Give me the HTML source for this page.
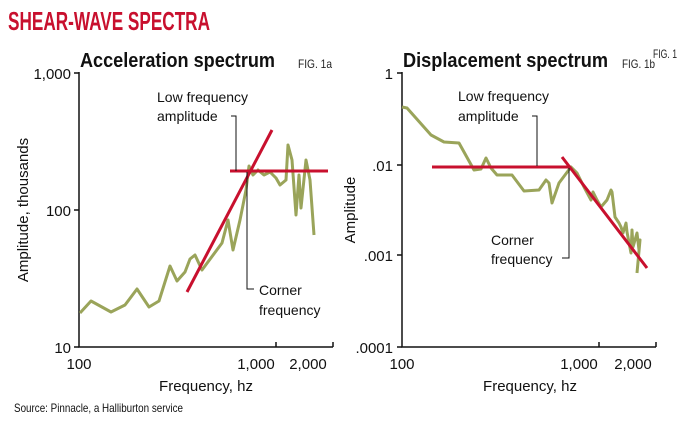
<!DOCTYPE html>
<html><head><meta charset="utf-8"><style>
html,body{margin:0;padding:0;background:#fff;}
svg{display:block;font-family:"Liberation Sans",sans-serif;}
</style></head><body>
<svg width="688" height="423" viewBox="0 0 688 423" xmlns="http://www.w3.org/2000/svg">
<rect width="688" height="423" fill="#fff"/>
<text x="8" y="30" font-size="26" font-weight="bold" fill="#c8102e" textLength="202" lengthAdjust="spacingAndGlyphs">SHEAR-WAVE SPECTRA</text>
<text x="653" y="58" font-size="12" fill="#222" textLength="24" lengthAdjust="spacingAndGlyphs">FIG. 1</text>

<!-- Left chart -->
<text x="80" y="67" font-size="20" font-weight="bold" fill="#111" textLength="195" lengthAdjust="spacingAndGlyphs">Acceleration spectrum</text>
<text x="298" y="68" font-size="12" fill="#222" textLength="34" lengthAdjust="spacingAndGlyphs">FIG. 1a</text>
<g stroke="#111" stroke-width="1.5" fill="none">
<path d="M79,72 V347 H333"/>
<path d="M74,73 H79 M74,210 H79 M74,347 H79 M276,347 V342 M333,347 V342"/>
</g>
<g font-size="15" fill="#111" text-anchor="end">
<text x="71" y="79">1,000</text><text x="71" y="216">100</text><text x="71" y="353">10</text>
</g>
<g font-size="15" fill="#111" text-anchor="middle">
<text x="79" y="369">100</text><text x="256" y="369">1,000</text><text x="308" y="369">2,000</text>
<text x="206" y="391">Frequency, hz</text>
</g>
<text transform="translate(28,210) rotate(-90)" font-size="15" fill="#111" text-anchor="middle">Amplitude, thousands</text>
<polyline fill="none" stroke="#9aa45a" stroke-width="3" stroke-linejoin="round" points="80,313 91,301 111,312 125,305 137,289 149,307 159,301 170,266 177,281 185,272 190,259 195,255 202,270 222,243 228,220 233,250 240,220 246,190 249,166 253,175 258,170 264,175 270,172 276,178 280,185 286,180 288,145 292,160 296,215 299,175 301,208 306,160 310,180 314,235"/>
<g stroke="#c8102e" stroke-width="3">
<line x1="187" y1="292" x2="272" y2="130"/>
<line x1="230" y1="171" x2="328" y2="171"/>
</g>
<g stroke="#111" stroke-width="1" fill="none">
<path d="M231,116 H236 V171"/>
<path d="M247,172 V289 H254"/>
</g>
<g font-size="14" fill="#111">
<text x="157" y="102">Low frequency</text>
<text x="157" y="121">amplitude</text>
<text x="259" y="295">Corner</text>
<text x="259" y="315">frequency</text>
</g>

<!-- Right chart -->
<text x="403" y="67" font-size="20" font-weight="bold" fill="#111" textLength="205" lengthAdjust="spacingAndGlyphs">Displacement spectrum</text>
<text x="622" y="68" font-size="12" fill="#222" textLength="33" lengthAdjust="spacingAndGlyphs">FIG. 1b</text>
<g stroke="#111" stroke-width="1.5" fill="none">
<path d="M402,72 V347 H656"/>
<path d="M397,73 H402 M397,165 H402 M397,255 H402 M397,347 H402 M599,347 V342 M656,347 V342"/>
</g>
<g font-size="15" fill="#111" text-anchor="end">
<text x="393" y="79">1</text><text x="393" y="171">.01</text><text x="393" y="261">.001</text><text x="393" y="353">.0001</text>
</g>
<g font-size="15" fill="#111" text-anchor="middle">
<text x="402" y="369">100</text><text x="579" y="369">1,000</text><text x="633" y="369">2,000</text>
<text x="530" y="391">Frequency, hz</text>
</g>
<text transform="translate(355,210) rotate(-90)" font-size="15" fill="#111" text-anchor="middle">Amplitude</text>
<polyline fill="none" stroke="#9aa45a" stroke-width="3" stroke-linejoin="round" points="402,107 407,108 431,135 444,142 459,143 474,170 481,169 486,158 491,168 497,175 512,175 524,191 539,190 546,180 549,183 552,203 559,183 571,167 577,173 584,187 591,200 593,192 597,200 601,207 607,200 611,190 612,192 615,217 619,223 621,227 623,233 626,223 627,232 631,253 632,230 633,247 637,233 639,250 640,240 637,273"/>
<g stroke="#c8102e" stroke-width="3">
<line x1="562" y1="157" x2="647" y2="268"/>
<line x1="432" y1="167" x2="569" y2="167"/>
</g>
<g stroke="#111" stroke-width="1" fill="none">
<path d="M532,116 H537 V166"/>
<path d="M569,168 V258 H562"/>
</g>
<g font-size="14" fill="#111">
<text x="458" y="101">Low frequency</text>
<text x="458" y="121">amplitude</text>
<text x="491" y="245">Corner</text>
<text x="491" y="264">frequency</text>
</g>

<text x="14" y="412" font-size="12" fill="#111" textLength="169" lengthAdjust="spacingAndGlyphs">Source: Pinnacle, a Halliburton service</text>
</svg>
</body></html>
